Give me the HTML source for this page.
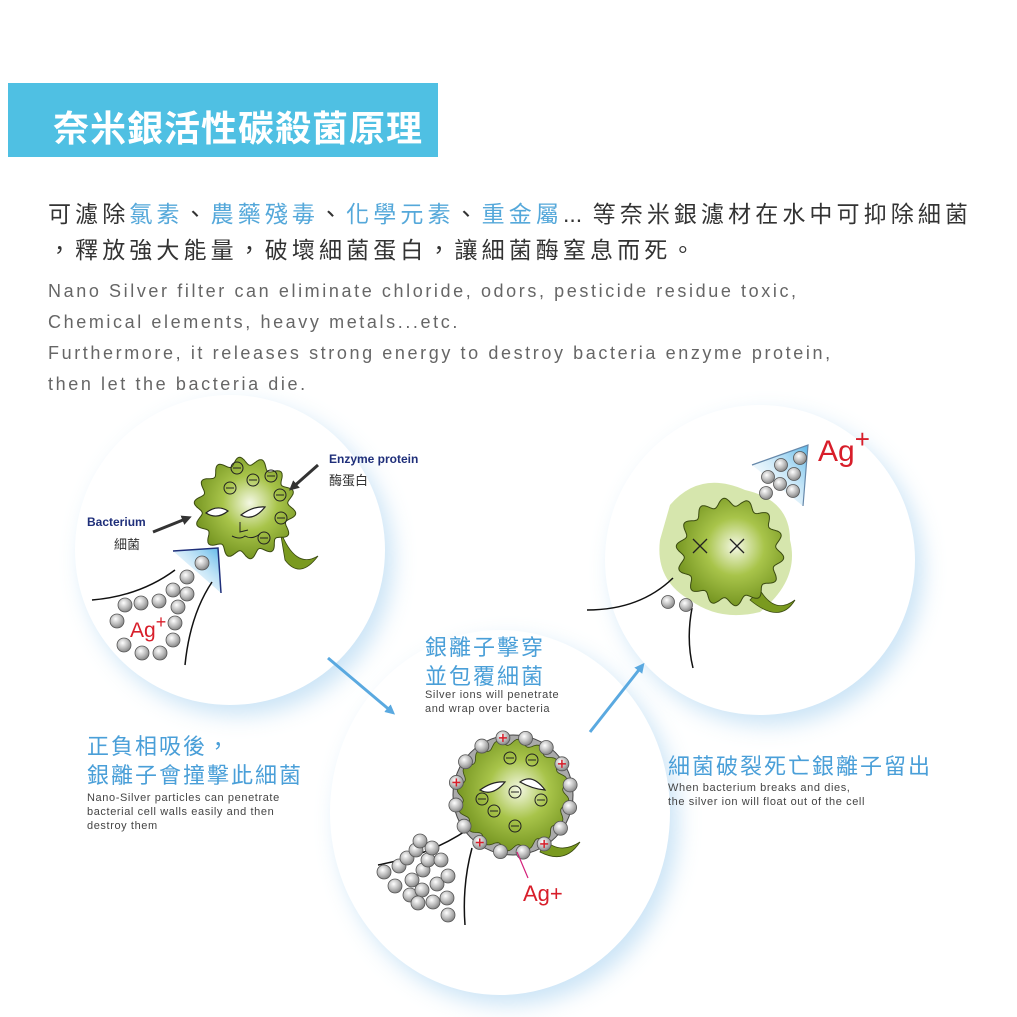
<!DOCTYPE html>
<html><head><meta charset="utf-8">
<style>
html,body{margin:0;padding:0;background:#fff;}
body{width:1017px;height:1017px;position:relative;overflow:hidden;font-family:"Liberation Sans","Noto Sans CJK TC",sans-serif;}
.t{position:absolute;white-space:nowrap;}
.circ{position:absolute;border-radius:50%;background:#fff;box-shadow:8px 10px 22px rgba(140,195,235,.45);}
.zh{font-size:23px;letter-spacing:4.1px;color:#333;}
.b{color:#55a8da;}
.en{font-size:18px;letter-spacing:2.6px;color:#666;}
.bl{color:#4a9fd8;font-size:22px;letter-spacing:2px;}
.sm{font-size:11px;color:#444;letter-spacing:.6px;line-height:14px;}
</style></head><body>
<div class="circ" style="left:75px;top:395px;width:310px;height:310px;"></div>
<div class="circ" style="left:330px;top:630px;width:340px;height:365px;"></div>
<div class="circ" style="left:605px;top:405px;width:310px;height:310px;"></div>

<div style="position:absolute;left:8px;top:83px;width:430px;height:74px;background:#4fc0e3;"></div>
<div class="t" style="left:53px;top:100px;font-size:36px;font-weight:bold;color:#fff;letter-spacing:1px;">奈米銀活性碳殺菌原理</div>

<div class="t zh" style="left:48px;top:195px;">可濾除<span class="b">氯素</span>、<span class="b">農藥殘毒</span>、<span class="b">化學元素</span>、<span class="b">重金屬</span><span style="letter-spacing:0">...</span> 等奈米銀濾材在水中可抑除細菌</div>
<div class="t zh" style="left:48px;top:231px;">，釋放強大能量，破壞細菌蛋白，讓細菌酶窒息而死。</div>
<div class="t en" style="left:48px;top:281px;">Nano Silver filter can eliminate chloride, odors, pesticide residue toxic,</div>
<div class="t en" style="left:48px;top:312px;">Chemical elements, heavy metals...etc.</div>
<div class="t en" style="left:48px;top:343px;">Furthermore, it releases strong energy to destroy bacteria enzyme protein,</div>
<div class="t en" style="left:48px;top:374px;">then let the bacteria die.</div>

<div class="t bl" style="left:425px;top:630px;">銀離子擊穿</div>
<div class="t bl" style="left:425px;top:659px;">並包覆細菌</div>
<div class="t sm" style="left:425px;top:688px;">Silver ions will penetrate<br>and wrap over bacteria</div>
<div class="t bl" style="left:87px;top:729px;">正負相吸後，</div>
<div class="t bl" style="left:87px;top:758px;">銀離子會撞擊此細菌</div>
<div class="t sm" style="left:87px;top:791px;">Nano-Silver particles can penetrate<br>bacterial cell walls easily and then<br>destroy them</div>
<div class="t bl" style="left:668px;top:749px;">細菌破裂死亡銀離子留出</div>
<div class="t sm" style="left:668px;top:781px;">When bacterium breaks and dies,<br>the silver ion will float out of the cell</div>

<div class="t" style="left:87px;top:515px;font-size:12px;font-weight:bold;color:#1f2f7a;">Bacterium</div>
<div class="t" style="left:114px;top:534px;font-size:13px;color:#333;">細菌</div>
<div class="t" style="left:329px;top:452px;font-size:12px;font-weight:bold;color:#1f2f7a;">Enzyme protein</div>
<div class="t" style="left:329px;top:470px;font-size:13px;color:#333;">酶蛋白</div>

<svg id="s" width="1017" height="1017" style="position:absolute;left:0;top:0;">
<defs>
<radialGradient id="ball" cx="40%" cy="35%" r="65%"><stop offset="0" stop-color="#fff"/><stop offset=".6" stop-color="#bbb"/><stop offset="1" stop-color="#888"/></radialGradient>
<radialGradient id="grn" cx="55%" cy="45%" r="60%"><stop offset="0" stop-color="#f4f8e4"/><stop offset=".45" stop-color="#a8c44a"/><stop offset="1" stop-color="#6f8f1c"/></radialGradient>
<linearGradient id="wedge" x1="1" y1="0" x2="0" y2="1"><stop offset="0" stop-color="#5ab6e8"/><stop offset="1" stop-color="#fff" stop-opacity="0"/></linearGradient>
<marker id="ar" markerWidth="10" markerHeight="10" refX="6" refY="5" orient="auto" markerUnits="userSpaceOnUse"><path d="M0,0 L10,5 L0,10 z" fill="#5aa9e0"/></marker>
<marker id="ak" markerWidth="10" markerHeight="10" refX="6" refY="5" orient="auto" markerUnits="userSpaceOnUse"><path d="M0,0 L10,5 L0,10 z" fill="#333"/></marker>
</defs>
<line x1="328" y1="658" x2="392" y2="712" stroke="#5aa9e0" stroke-width="3" marker-end="url(#ar)"/>
<line x1="590" y1="732" x2="642" y2="666" stroke="#5aa9e0" stroke-width="3" marker-end="url(#ar)"/>
<path d="M173,551 L218,548 L221,593 Z" fill="url(#wedge)"/>
<path d="M173,551 L218,548 L221,593" fill="none" stroke="#1f2f7a" stroke-width="1.5"/>
<path d="M92,600 Q140,596 175,570" fill="none" stroke="#111" stroke-width="1.5"/>
<path d="M185,665 Q190,615 212,582" fill="none" stroke="#111" stroke-width="1.5"/>
<path d="M280,530 Q295,570 318,556 Q300,580 285,560 Z" fill="#7a9a1f" stroke="#3a4a10" stroke-width=".8"/>
<g id="b1"></g>
<line x1="153" y1="532" x2="188" y2="518" stroke="#333" stroke-width="3" marker-end="url(#ak)"/>
<line x1="318" y1="465" x2="292" y2="488" stroke="#333" stroke-width="3" marker-end="url(#ak)"/>
<text x="130" y="637" font-family="Liberation Sans" font-size="21" fill="#d81e2a">Ag<tspan dy="-9" font-size="18">+</tspan></text>
<path d="M378,865 Q430,855 467,830" fill="none" stroke="#111" stroke-width="1.5"/>
<path d="M472,848 Q462,885 465,925" fill="none" stroke="#111" stroke-width="1.5"/>
<path d="M545,840 Q560,855 580,842 Q565,865 540,852 Z" fill="#7a9a1f" stroke="#3a4a10" stroke-width=".8"/>
<g id="b2"></g>
<line x1="517" y1="852" x2="528" y2="878" stroke="#d4207a" stroke-width="1.2"/>
<text x="523" y="901" font-family="Liberation Sans" font-size="22" fill="#d81e2a">Ag+</text>
<path d="M670,505 Q700,470 745,490 Q790,500 790,540 Q800,580 760,612 Q720,622 690,600 Q655,580 660,540 Z" fill="#c5dc8a" opacity=".7"/>
<path d="M587,610 Q640,610 673,578" fill="none" stroke="#111" stroke-width="1.5"/>
<path d="M692,608 Q686,640 693,668" fill="none" stroke="#111" stroke-width="1.5"/>
<path d="M760,590 Q775,615 795,600 Q780,625 750,600 Z" fill="#7a9a1f" stroke="#3a4a10" stroke-width=".8"/>
<path d="M752,465 L808,445 L803,506 Z" fill="url(#wedge)"/>
<path d="M752,465 L808,445 L803,506" fill="none" stroke="#6688aa" stroke-width="1.2"/>
<g id="b3"></g>
<text x="818" y="461" font-family="Liberation Sans" font-size="30" fill="#d81e2a">Ag<tspan dy="-13" font-size="26">+</tspan></text>
</svg>
<script>
var NS="http://www.w3.org/2000/svg";
function el(p,n,a){var e=document.createElementNS(NS,n);for(var k in a)e.setAttribute(k,a[k]);p.appendChild(e);return e;}
function wavy(cx,cy,r,amp,n){var d="";for(var i=0;i<=360;i++){var t=i*Math.PI/180;var rr=r+amp*Math.sin(n*t);var x=cx+rr*Math.cos(t),y=cy+rr*Math.sin(t);d+=(i?"L":"M")+x.toFixed(1)+","+y.toFixed(1);}return d+"Z";}
function ball(g,x,y,r,plus){el(g,"circle",{cx:x,cy:y,r:r||7,fill:"url(#ball)",stroke:"#555","stroke-width":.8});if(plus){el(g,"line",{x1:x-4,y1:y,x2:x+4,y2:y,stroke:"#d81e2a","stroke-width":1.5});el(g,"line",{x1:x,y1:y-4,x2:x,y2:y+4,stroke:"#d81e2a","stroke-width":1.5});}}
function minus(g,x,y){el(g,"circle",{cx:x,cy:y,r:6,fill:"none",stroke:"#222","stroke-width":1});el(g,"line",{x1:x-4,y1:y,x2:x+4,y2:y,stroke:"#222","stroke-width":1});}
function eye(g,x1,y1,x2,y2){el(g,"path",{d:"M"+x1+","+y1+" Q"+((x1+x2)/2)+","+(y1-9)+" "+x2+","+y2+" Q"+((x1+x2)/2)+","+(y1+7)+" "+x1+","+y1+"Z",fill:"#fff",stroke:"#222","stroke-width":1.2});}
var g1=document.getElementById("b1");
el(g1,"path",{d:wavy(245,508,47,4,14),fill:"url(#grn)",stroke:"#3a4a10","stroke-width":1});
[[237,468],[253,480],[271,476],[230,488],[280,495],[281,518],[264,538]].forEach(function(p){minus(g1,p[0],p[1]);});
eye(g1,206,513,228,511);eye(g1,241,515,265,507);
el(g1,"path",{d:"M240,522 L240,532 L248,530 M232,536 Q240,540 245,536 Q252,540 260,534",fill:"none",stroke:"#222","stroke-width":1});
[[202,563],[187,577],[173,590],[187,594],[159,601],[141,603],[125,605],[178,607],[175,623],[117,621],[173,640],[124,645],[142,653],[160,653]].forEach(function(p){ball(g1,p[0],p[1]);});
var g2=document.getElementById("b2");
el(g2,"circle",{cx:513,cy:795,r:60,fill:"#aaa",stroke:"#444","stroke-width":1});
el(g2,"path",{d:wavy(513,795,53,3,16),fill:"url(#grn)",stroke:"#3a4a10","stroke-width":.8});
[[510,758],[532,760],[515,792],[482,799],[494,811],[541,800],[515,826]].forEach(function(p){minus(g2,p[0],p[1]);});
eye(g2,480,790,505,782);eye(g2,520,782,545,790);
var pl=[0,3,7,10,13];
for(var i=0;i<16;i++){var t=(-100+i*22.5)*Math.PI/180;ball(g2,513+58*Math.cos(t),795+58*Math.sin(t),7,pl.indexOf(i)>=0);}
[[384,872],[399,866],[407,858],[416,850],[420,841],[395,886],[412,880],[423,870],[428,860],[432,848],[410,895],[422,890],[437,884],[448,876],[418,903],[433,902],[447,898],[448,915],[441,860]].forEach(function(p){ball(g2,p[0],p[1]);});
var g3=document.getElementById("b3");
el(g3,"path",{d:wavy(730,552,50,4,14),fill:"url(#grn)",stroke:"#3a4a10","stroke-width":1});
[[700,546],[737,546]].forEach(function(p){el(g3,"path",{d:"M"+(p[0]-7)+","+(p[1]-7)+"L"+(p[0]+7)+","+(p[1]+7)+"M"+(p[0]+7)+","+(p[1]-7)+"L"+(p[0]-7)+","+(p[1]+7),stroke:"#222","stroke-width":1.3});});
[[668,602],[686,605],[766,493],[768,477],[780,484],[781,465],[794,474],[800,458],[793,491]].forEach(function(p){ball(g3,p[0],p[1],6.5);});
</script>
</body></html>
